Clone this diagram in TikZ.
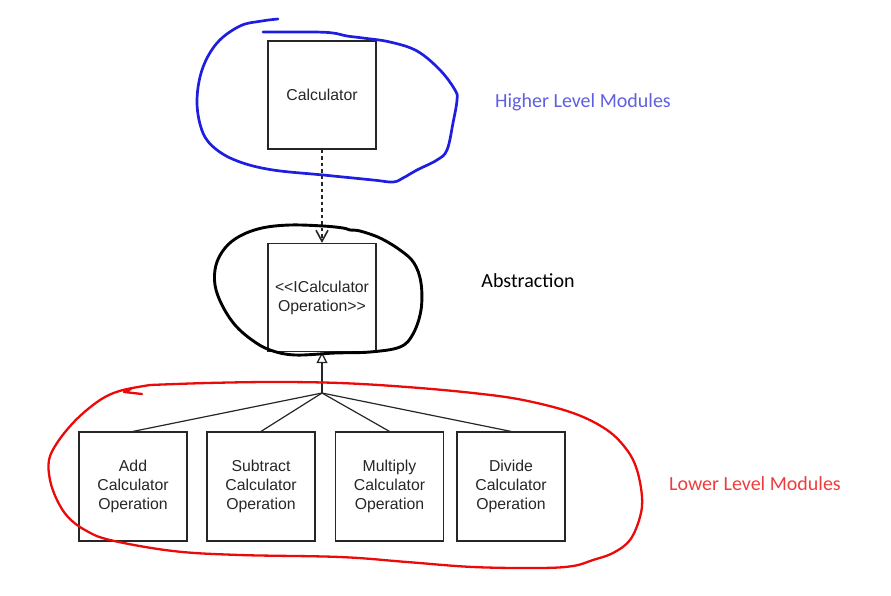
\documentclass[tikz,border=0pt]{standalone}
\usepackage{fontspec}
\setmainfont{Liberation Sans}
\newfontfamily\calib{Carlito}
\usetikzlibrary{arrows.meta}
\definecolor{penblue}{RGB}{30,30,225}
\definecolor{penred}{RGB}{235,10,10}
\definecolor{lblblue}{RGB}{95,95,225}
\definecolor{lblred}{RGB}{240,60,60}
\tikzset{
  umlbox/.style={draw=black!85, line width=1.2pt, minimum width=108pt, minimum height=108pt,
    inner sep=0pt, align=center, font=\fontsize{15.8}{19}\selectfont, text=black!85},
  link/.style={draw=black!85, line width=1.2pt},
  pen/.style={line width=2.7pt, line cap=round, line join=round},
  lbl/.style={font=\calib\fontsize{20}{24}\selectfont, anchor=center}
}
\begin{document}
\begin{tikzpicture}[x=1pt,y=-1pt]
\useasboundingbox (0,0) rectangle (891,595);
% nodes
\node[umlbox] (calc) at (322,95) {Calculator};
\node[umlbox] (icalc) at (322,297.5) {<\kern0pt<ICalculator\\Operation>\kern0pt>};
\node[umlbox, minimum height=109pt] (add) at (133,486.5) {Add\\Calculator\\Operation};
\node[umlbox, minimum height=109pt] (sub) at (261,486.5) {Subtract\\Calculator\\Operation};
\node[umlbox, minimum height=109pt] (mul) at (389.5,486.5) {Multiply\\Calculator\\Operation};
\node[umlbox, minimum height=109pt] (div) at (511,486.5) {Divide\\Calculator\\Operation};
\coordinate (fan) at (322,393);
% connectors
\draw[link, dash pattern=on 3.5pt off 3pt, -{Straight Barb[length=11pt,width=12pt,line width=1.6pt]}] (calc.south) -- (icalc.north);
\draw[link, -{Triangle[open,length=11pt,width=11pt,line width=1.3pt]}] (fan) -- (icalc.south);
\draw[link] (fan) -- (add.north);
\draw[link] (fan) -- (sub.north);
\draw[link] (fan) -- (mul.north);
\draw[link] (fan) -- (div.north);
% labels
\node[lbl, text=lblblue] (hl) at (583,102) {Higher Level Modules};
\node[lbl, text=black] (ab) at (528,281) {Abstraction};
\node[lbl, text=lblred] (ll) at (755,484) {Lower Level Modules};
% hand-drawn blue loop
\draw[pen, penblue] plot[smooth, tension=0.6] coordinates {
 (278,19) (262,21) (240,26) (217,43) (202,70) (197,103) (203,133) (217,150) (240,162) (273,170)
 (323,175) (373,180) (393,182) (403,178) (417,170) (437,160) (447,150) (453,123) (457,100)
 (455,90) (440,70) (417,51) (390,42) (363,38) (347,36) (333,33) (313,32) (263,32)};
% hand-drawn black loop
\draw[pen, black, line width=2.9pt] plot[smooth cycle, tension=0.6] coordinates {
 (323,226) (290,225) (262,228) (240,236) (225,248) (216,265) (215,285) (222,305) (235,325)
 (252,340) (270,350) (295,355) (335,353) (370,352) (400,347) (413,334) (421,310) (421,283)
 (414,263) (400,250) (380,238) (360,231) (350,230) (343,228)};
% hand-drawn red loop
\draw[pen, penred, line width=2.3pt] plot[smooth, tension=0.6] coordinates {
 (150,385) (123,390) (105,397) (88,409) (72,424) (57,443) (49,460) (50,480) (57,500) (68,517)
 (85,530) (110,540) (173,551) (240,555) (340,557) (407,562) (473,567) (540,568) (573,566)
 (593,560) (613,553) (630,540) (640,517) (642,497) (637,470) (627,450) (607,430) (573,413)
 (523,400) (473,393) (407,387) (340,383) (273,382) (207,383) (150,385)};
\draw[pen, penred, line width=2.3pt] (142,394) -- (124,392) -- (131,389);
\end{tikzpicture}
\end{document}
